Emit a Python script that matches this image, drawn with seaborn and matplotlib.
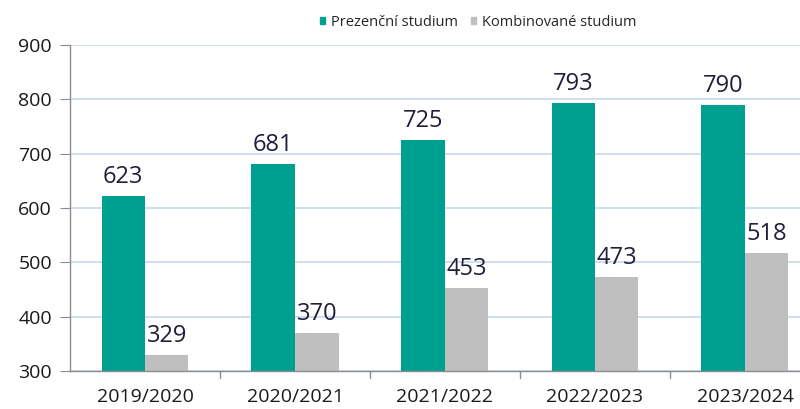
import matplotlib
matplotlib.use("Agg")
import matplotlib.pyplot as plt
import pandas as pd
import seaborn as sns

# data
years = ["2019/2020", "2020/2021", "2021/2022", "2022/2023", "2023/2024"]
prezencni = [623, 681, 725, 793, 790]
kombinovane = [329, 370, 453, 473, 518]
series_names = ["Prezenční studium", "Kombinované studium"]
colors = ["#00A091", "#BFBFBF"]

df = pd.DataFrame({
    "rok": years * 2,
    "pocet": prezencni + kombinovane,
    "typ": [series_names[0]] * len(years) + [series_names[1]] * len(years),
})

sns.set_style("white")
plt.rcParams["font.family"] = ["Open Sans", "DejaVu Sans"]

fig = plt.figure(figsize=(8, 4.09), dpi=100)
ax = fig.add_axes([70 / 800, 1 - 371 / 409, 750 / 800, 326 / 409])

sns.barplot(data=df, x="rok", y="pocet", hue="typ", palette=colors,
            width=0.58, saturation=1, linewidth=0, ax=ax, legend=False)

ax.set_ylim(300, 900)
ax.set_xlim(-0.5, 4.5)
ax.set_yticks(range(300, 901, 100))
ax.yaxis.grid(True, color="#C6D8EE", linewidth=1.2)
ax.set_axisbelow(True)
ax.set_xlabel("")
ax.set_ylabel("")

for side in ["top", "right"]:
    ax.spines[side].set_visible(False)
for side in ["left", "bottom"]:
    ax.spines[side].set_color("#8C8C8C")
    ax.spines[side].set_linewidth(1)

# y ticks: kratke carky vlevo
ax.tick_params(axis="y", left=True, length=7, color="#8C8C8C", labelsize=14,
               labelcolor="#1A1A1A", pad=6)
# x ticks na hranicich kategorii
ax.set_xticks([i for i in range(len(years))])
ax.set_xticklabels(years)
ax.tick_params(axis="x", bottom=False, labelsize=14, labelcolor="#1A1A1A", pad=9)
for b in [0.5, 1.5, 2.5, 3.5]:
    ax.plot([b, b], [0, -0.02], transform=ax.get_xaxis_transform(),
            color="#8C8C8C", linewidth=1, clip_on=False)

# popisky hodnot
for cont in ax.containers:
    ax.bar_label(cont, fmt="%d", padding=5, fontsize=17, color="#1F1F3A")

# legenda
handles = [plt.Rectangle((0, 0), 1, 1, color=c) for c in colors]
fig.legend(handles, series_names, loc="upper center", bbox_to_anchor=(0.598, 0.995),
           ncol=2, frameon=False, fontsize=10.5, handlelength=0.35, handleheight=0.35,
           handletextpad=0.4, columnspacing=0.9)

fig.savefig("out.png", dpi=100)
